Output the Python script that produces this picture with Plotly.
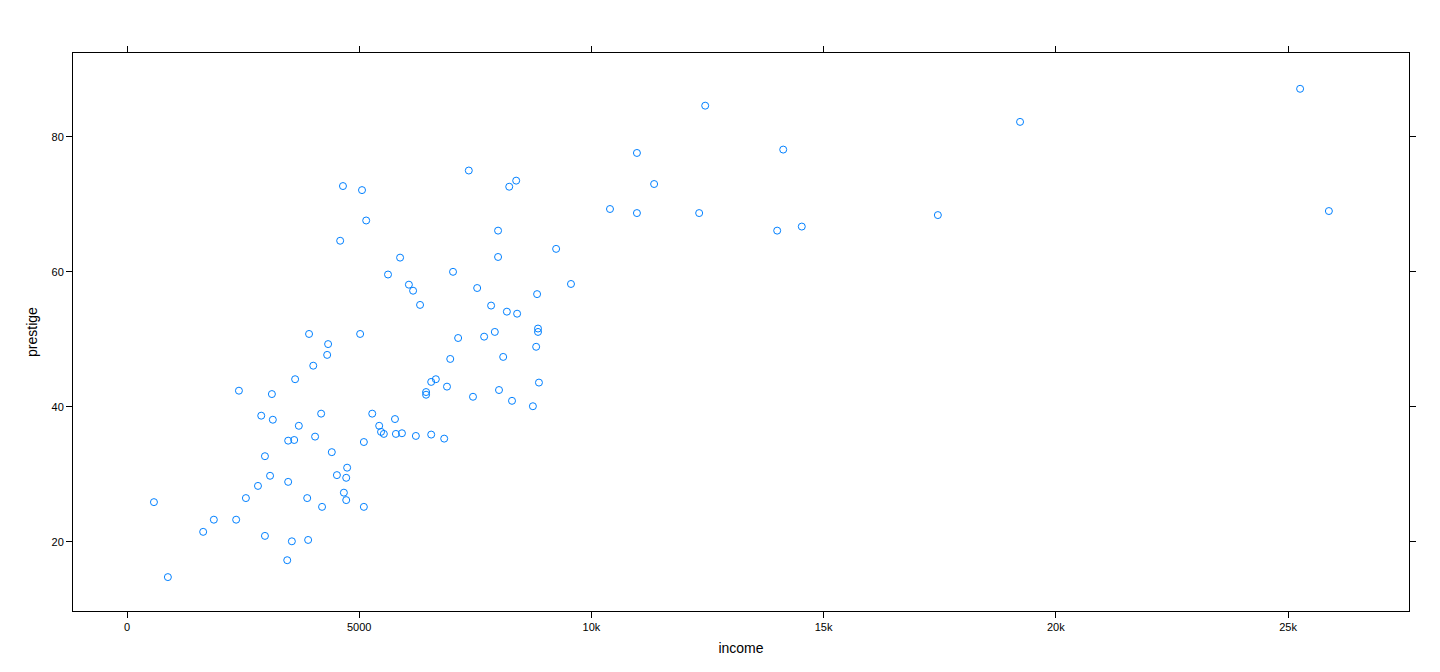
import plotly.graph_objects as go

income = [580, 880, 1640, 1870, 2350, 2410, 2560, 2820, 2890, 2970,
          2970, 3080, 3120, 3140, 3470, 3450, 3470, 3550, 3600, 3620,
          3700, 3880, 3900, 3920, 4010, 4050, 4180, 4200, 4310, 4330,
          4410, 4520, 4590, 4650, 4670, 4720, 4720, 4740, 5020, 5060,
          5100, 5100, 5150, 5280, 5430, 5470, 5530, 5620, 5770, 5790,
          5880, 5920, 6070, 6160, 6220, 6310, 6440, 6440, 6550, 6550,
          6650, 6830, 6890, 6960, 7020, 7130, 7360, 7450, 7540, 7690,
          7840, 7920, 7990, 7990, 8010, 8100, 8180, 8230, 8290, 8380,
          8400, 8740, 8810, 8830, 8850, 8850, 8870, 9240, 9560, 10400,
          10980, 10980, 11350, 12320, 12450, 14000, 14130, 14530, 17460, 19230,
          25260, 25880]
prestige = [25.9, 14.8, 21.5, 23.3, 23.3, 42.4, 26.5, 28.3, 38.7, 32.7,
            20.9, 29.8, 41.9, 38.1, 35.0, 17.3, 28.9, 20.1, 35.1, 44.1,
            37.2, 26.5, 20.3, 50.8, 46.1, 35.6, 39.0, 25.2, 47.7, 49.3,
            33.3, 29.9, 64.6, 72.7, 27.3, 29.5, 26.2, 31.0, 50.8, 72.1,
            34.8, 25.2, 67.6, 39.0, 37.2, 36.3, 36.0, 59.6, 38.2, 36.0,
            62.1, 36.1, 58.1, 57.2, 35.7, 55.1, 42.2, 41.8, 43.7, 35.9,
            44.1, 35.3, 43.0, 47.1, 60.0, 50.2, 75.0, 41.5, 57.6, 50.4,
            55.0, 51.1, 66.1, 62.2, 42.5, 47.4, 54.1, 72.6, 40.9, 73.5,
            53.8, 40.1, 48.9, 56.7, 51.1, 51.6, 43.6, 63.4, 58.2, 69.3,
            77.6, 68.7, 73.0, 68.7, 84.6, 66.1, 78.1, 66.7, 68.4, 82.2,
            87.1, 69.0]

fig = go.Figure(go.Scatter(
    x=income, y=prestige, mode="markers",
    marker=dict(symbol="circle-open", size=7, color="#0080ff", line=dict(width=1)),
    hoverinfo="x+y",
))

axis_style = dict(showgrid=False, zeroline=False, showline=True, linecolor="black",
                  linewidth=1, mirror="ticks", ticks="outside", ticklen=6,
                  tickcolor="black", tickfont=dict(size=11, color="black"))

fig.update_xaxes(range=[-1163, 27605], tickvals=[0, 5000, 10000, 15000, 20000, 25000],
                 title=dict(text="income", font=dict(size=14, color="black"), standoff=10),
                 **axis_style)
fig.update_yaxes(range=[9.78, 92.4], tickvals=[20, 40, 60, 80],
                 title=dict(text="prestige", font=dict(size=14, color="black"), standoff=10),
                 **axis_style)

fig.update_layout(
    width=1440, height=672,
    margin=dict(l=65, r=39, t=45, b=69),
    plot_bgcolor="white", paper_bgcolor="white",
    font=dict(family="Liberation Sans, Arial, sans-serif"),
    showlegend=False,
)

fig.write_html("out.html")
